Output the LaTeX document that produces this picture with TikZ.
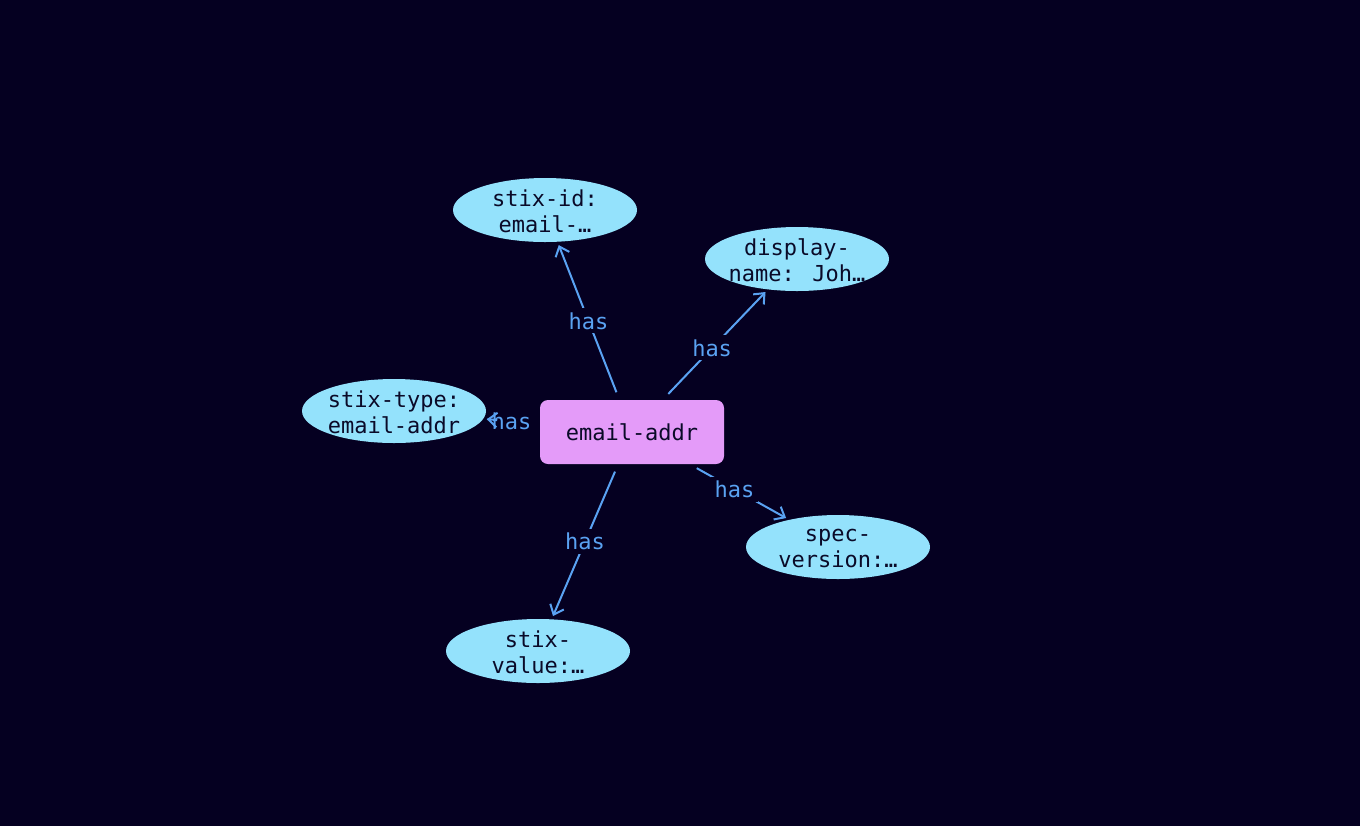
\documentclass[tikz,border=0pt]{standalone}
\usepackage{fontspec}
\setmainfont{DejaVu Sans Mono}
\usetikzlibrary{shapes.geometric,arrows.meta}
\definecolor{bg}{HTML}{050021}
\definecolor{attr}{HTML}{94E2FC}
\definecolor{obj}{HTML}{E49BF9}
\definecolor{edgec}{HTML}{5AA2F2}
\definecolor{txt}{HTML}{0A0A28}
\tikzset{
  attrnode/.style={ellipse, fill=attr, minimum width=138pt, minimum height=48pt, inner sep=0pt},
  attrtext/.style={text=txt, align=center, font=\fontsize{16.5}{19.5}\selectfont, inner sep=0pt},
  objnode/.style={rectangle, rounded corners=6pt, fill=obj, text=txt, minimum width=138pt, minimum height=48pt, font=\fontsize{16.5}{19.5}\selectfont},
  edge/.style={draw=edgec, line width=1.5pt, -{Straight Barb[length=6.5pt,width=11pt]}, shorten <=6pt, shorten >=2.5pt},
  lbl/.style={fill=bg, text=edgec, font=\fontsize{16.5}{19.5}\selectfont, inner sep=3pt}
}
\begin{document}
\begin{tikzpicture}[x=0.75pt,y=-0.75pt]
\fill[bg] (0,0) rectangle (1360,826);
\useasboundingbox (0,0) rectangle (1360,826);
\node[objnode] (c) at (632,432) {email-addr};
\node[attrnode] (sid) at (545,210) {};
\node[attrtext] (sidt) at (545,211) {stix-id:\\email-…};
\node[attrnode] (dn) at (797,259) {};
\node[attrtext] (dnt) at (797,260) {display-\\name: Joh…};
\node[attrnode] (st) at (394,411) {};
\node[attrtext] (stt) at (394,412) {stix-type:\\email-addr};
\node[attrnode] (sv) at (838,547) {};
\node[attrtext] (svt) at (838,548) {spec-\\version:…};
\node[attrnode] (val) at (538,651) {};
\node[attrtext] (valt) at (538,652) {stix-\\value:…};
\draw[edge] (c) -- node[lbl] (l1) {has} (sid);
\draw[edge] (c) -- node[lbl, pos=0.47] (l2) {has} (dn);
\draw[edge] (c) -- node[lbl] (l3) {has} (st);
\draw[edge] (c) -- node[lbl, pos=0.45] (l4) {has} (sv);
\draw[edge] (c) -- node[lbl] (l5) {has} (val);
\draw[edge, shorten <=32pt] (c) -- (st);
\end{tikzpicture}
\end{document}
